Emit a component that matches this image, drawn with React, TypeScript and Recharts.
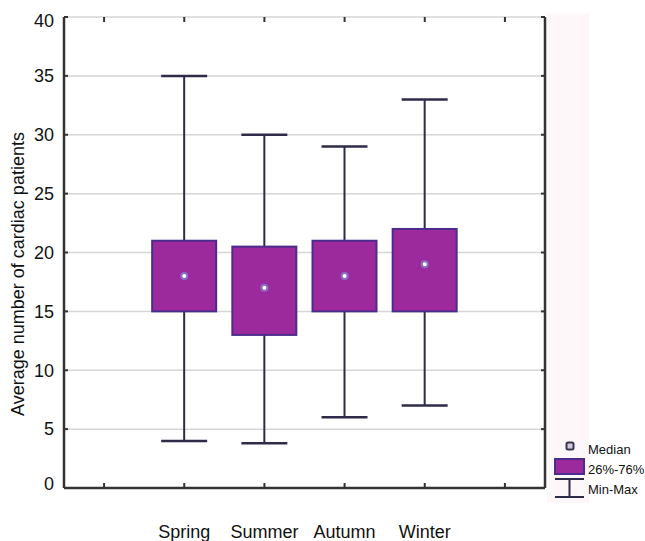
import { ComposedChart, Bar, Scatter, XAxis, YAxis, CartesianGrid } from 'recharts';

// slots 0 and 5 are empty padding columns on either side of the seasons
const categories = ['', 'Spring', 'Summer', 'Autumn', 'Winter', ''];
const minValues = [null, 4, 3.8, 6, 7, null];
const q1Values = [null, 15, 13, 15, 15, null];
const medianValues = [null, 18, 17, 18, 19, null];
const q3Values = [null, 21, 20.5, 21, 22, null];
const maxValues = [null, 35, 30, 29, 33, null];
const yTicks = [0, 5, 10, 15, 20, 25, 30, 35, 40];

const FONT = '"Liberation Sans", Arial, sans-serif';
const BOX_FILL = '#9c2a9c';
const BOX_STROKE = '#4b2c8c';
const WHISKER = '#2e2b48';
const FRAME = '#333333';

// frame edges (chart margin top, and chart width minus right axis width)
const FRAME_TOP = 17;
const FRAME_RIGHT = 545;

const data = categories.map((name, i) => ({
  slot: i,
  name,
  range: minValues[i] == null ? null : [minValues[i], maxValues[i]],
  min: minValues[i],
  q1: q1Values[i],
  median: medianValues[i],
  q3: q3Values[i],
  max: maxValues[i],
}));

// whiskers + box, positioned from the [min, max] range bar geometry
const BoxShape = (props: any) => {
  const { x, y, width, height, payload } = props;
  if (!payload || payload.range == null) return null;
  const { min, max, q1, q3 } = payload;
  const k = height / (max - min);
  const yAt = (v: number) => y + (max - v) * k;
  const cx = x + width / 2;
  const cap = 23;
  return (
    <g>
      <line x1={cx} x2={cx} y1={yAt(max)} y2={yAt(q3)} stroke={WHISKER} strokeWidth={2} />
      <line x1={cx} x2={cx} y1={yAt(q1)} y2={yAt(min)} stroke={WHISKER} strokeWidth={2} />
      <line x1={cx - cap} x2={cx + cap} y1={yAt(max)} y2={yAt(max)} stroke={WHISKER} strokeWidth={2.5} />
      <line x1={cx - cap} x2={cx + cap} y1={yAt(min)} y2={yAt(min)} stroke={WHISKER} strokeWidth={2.5} />
      <rect
        x={x}
        y={yAt(q3)}
        width={width}
        height={yAt(q1) - yAt(q3)}
        fill={BOX_FILL}
        stroke={BOX_STROKE}
        strokeWidth={2}
      />
    </g>
  );
};

const MedianDot = (props: any) => {
  const { cx, cy } = props;
  if (cx == null || cy == null) return null;
  return <circle cx={cx} cy={cy} r={3} fill="#ffffff" stroke="#8a6cc0" strokeWidth={2} />;
};

// inward tick marks on bottom and top edges, plus the season name
const BottomTick = (props: any) => {
  const { x, y, payload } = props;
  return (
    <g>
      <line x1={x} x2={x} y1={y} y2={y - 5} stroke={FRAME} strokeWidth={2} />
      <line x1={x} x2={x} y1={FRAME_TOP} y2={FRAME_TOP + 5} stroke={FRAME} strokeWidth={2} />
      <text x={x} y={y + 50} textAnchor="middle" fontSize={18} fontFamily={FONT} fill="#111">
        {categories[payload.value]}
      </text>
    </g>
  );
};

// inward tick marks on left and right edges, plus the value label
const LeftTick = (props: any) => {
  const { x, y, payload } = props;
  const nudge = payload.value === 40 ? 4 : payload.value === 0 ? -4 : 0;
  return (
    <g>
      <line x1={x} x2={x + 4} y1={y} y2={y} stroke={FRAME} strokeWidth={2} />
      <line x1={FRAME_RIGHT} x2={FRAME_RIGHT - 4} y1={y} y2={y} stroke={FRAME} strokeWidth={2} />
      <text x={x - 10} y={y + nudge} dy="0.35em" textAnchor="end" fontSize={18} fontFamily={FONT} fill="#111">
        {payload.value}
      </text>
    </g>
  );
};

const AxisTitle = () => (
  <text
    x={18}
    y={274}
    transform="rotate(-90 18 274)"
    textAnchor="middle"
    dominantBaseline="central"
    fontSize={18}
    fontFamily={FONT}
    fill="#111"
  >
    Average number of cardiac patients
  </text>
);

const BoxLegend = () => (
  <svg width={645} height={541} style={{ position: 'absolute', left: 0, top: 0, pointerEvents: 'none' }}>
    <rect x={566.5} y={442.5} width={7} height={7} rx={1.5} fill="#d2cadf" stroke="#3a3552" strokeWidth={2} />
    <rect x={555} y={459} width={29} height={15} fill={BOX_FILL} stroke={BOX_STROKE} strokeWidth={2} />
    <line x1={555} x2={584} y1={479} y2={479} stroke={WHISKER} strokeWidth={2} />
    <line x1={569.5} x2={569.5} y1={479} y2={497} stroke={WHISKER} strokeWidth={2} />
    <line x1={555} x2={584} y1={497} y2={497} stroke={WHISKER} strokeWidth={2} />
    <g fontSize={13} fontFamily={FONT} fill="#111">
      <text x={588} y={454}>Median</text>
      <text x={588} y={474}>26%-76%</text>
      <text x={588} y={494}>Min-Max</text>
    </g>
  </svg>
);

export default function App() {
  return (
    <div style={{ position: 'fixed', left: 0, top: 0, width: 645, height: 541, background: '#fff' }}>
      <div style={{ position: 'absolute', left: 547, top: 13, width: 42, height: 490, background: '#fdf7f9' }} />
      <ComposedChart
        width={645}
        height={541}
        data={data}
        margin={{ top: FRAME_TOP, right: 0, bottom: 0, left: 0 }}
        style={{ position: 'absolute', left: 0, top: 0 }}
      >
        <CartesianGrid horizontal vertical={false} stroke="#d6d6d6" strokeWidth={1.5} />
        <XAxis
          dataKey="slot"
          type="category"
          height={53}
          interval={0}
          tickLine={false}
          tickSize={0}
          tickMargin={0}
          axisLine={{ stroke: FRAME, strokeWidth: 2.5 }}
          tick={<BottomTick />}
        />
        <XAxis
          xAxisId="top"
          dataKey="slot"
          type="category"
          orientation="top"
          height={0}
          tickLine={false}
          tick={false}
          axisLine={{ stroke: FRAME, strokeWidth: 2.5 }}
        />
        <YAxis
          domain={[0, 40]}
          ticks={yTicks}
          interval={0}
          width={64}
          tickLine={false}
          tickSize={0}
          tickMargin={0}
          axisLine={{ stroke: FRAME, strokeWidth: 2.5 }}
          tick={<LeftTick />}
          label={<AxisTitle />}
        />
        <YAxis
          yAxisId="right"
          orientation="right"
          domain={[0, 40]}
          width={645 - FRAME_RIGHT}
          tickLine={false}
          tick={false}
          axisLine={{ stroke: FRAME, strokeWidth: 2.5 }}
        />
        <Bar dataKey="range" barSize={64} shape={<BoxShape />} isAnimationActive={false} />
        <Scatter dataKey="median" shape={<MedianDot />} isAnimationActive={false} />
      </ComposedChart>
      <BoxLegend />
    </div>
  );
}
